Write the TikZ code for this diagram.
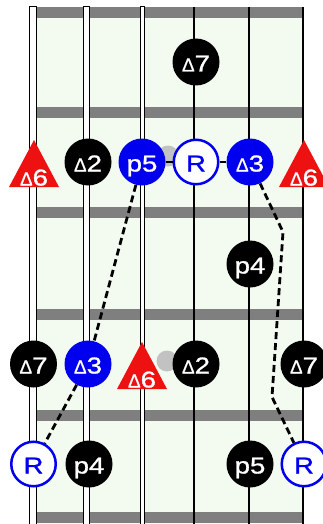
\documentclass[tikz,border=0pt]{standalone}
\usepackage{fontspec}
\setmainfont{Liberation Sans}
\newfontfamily\nf[FakeStretch=1.2,FakeBold=1.2]{Liberation Sans}
\newfontfamily\df[FakeBold=0.8]{Liberation Sans}
\definecolor{board}{HTML}{F3FAF0}
\definecolor{fretgray}{HTML}{7F7F7F}
\definecolor{nblue}{HTML}{0000EE}
\definecolor{nred}{HTML}{EE1111}
\definecolor{dotgray}{HTML}{C2C2C2}
\newcommand{\dd}[1]{{\df\fontsize{19}{19}\selectfont Δ}#1}
\begin{document}
\begin{tikzpicture}[x=1pt,y=-1pt,
  note/.style={circle, minimum size=47pt, inner sep=0pt, text height=19pt, text depth=0pt,
               font=\nf\fontsize{23}{23}\selectfont},
  blk/.style={note, fill=black, text=white},
  blu/.style={note, fill=nblue, text=white},
  root/.style={note, fill=white, draw=nblue, line width=2.5pt, text=nblue, minimum size=44.5pt},
  gdot/.style={circle, fill=dotgray, minimum size=21pt, inner sep=0pt},
  fret/.style={fill=fretgray},
  wound/.style={fill=white, draw=black, line width=1pt},
  plain/.style={draw=black, line width=1.2pt},
  link/.style={draw=black, line width=2.2pt},
  path/.style={draw=black, line width=2.8pt, dash pattern=on 7pt off 4pt},
  tlab/.style={anchor=base, text=white, inner sep=0pt, font=\nf\fontsize{23}{23}\selectfont},
  tri/.pic={\fill[nred] (0,-22) -- (-25,25) -- (25,25) -- cycle;
            \node[tlab] (-lab) at (0,23.5) {\dd6};}
]
\useasboundingbox (0,0) rectangle (323,524);
% board
\fill[board] (29,7) rectangle (303,524);
\foreach \y in {7,107,207,309,410,512}
  \fill[fret] (30,\y) rectangle (303,\y+11);
% strings
\draw[wound] (29.5,7) rectangle (36.5,524);
\draw[wound] (83.5,7) rectangle (89.5,524);
\draw[wound] (140,7) rectangle (144,524);
\draw[plain] (194,7) -- (194,524);
\draw[plain] (249,7) -- (249,524);
\draw[plain] (303,7) -- (303,524);
% grey dots
\node[gdot] (g1) at (168,156) {};
\node[gdot] (g2) at (167,361) {};
% row 1
\node[blk] (n17) at (196,62) {\dd7};
% row 2
\pic (t1) at (34,162) {tri};
\node[blk] (n22) at (88,162) {\dd2};
\node[blu] (n25) at (142,162) {p5};
\node[root] (n2r) at (196,162) {R};
\node[blu] (n23) at (250,162) {\dd3};
\pic (t2) at (304,162) {tri};
% row 3
\node[blk] (n34) at (250,264) {p4};
% row 4
\node[blk] (n47a) at (33.5,364) {\dd7};
\node[blu] (n43) at (88,364) {\dd3};
\pic (t3) at (142,364) {tri};
\node[blk] (n42) at (196,364) {\dd2};
\node[blk] (n47b) at (304,364) {\dd7};
% row 5
\node[root] (n5ra) at (33.5,464) {R};
\node[blk] (n54) at (89,464) {p4};
\node[blk] (n55) at (250,464) {p5};
\node[root] (n5rb) at (304,464) {R};
% connectors
\coordinate (c1) at (283,232);
\coordinate (c2) at (272,397);
\draw[link] (n25) -- (n2r) -- (n23);
\draw[path] (n25) -- (n43);
\draw[path] (n43) -- (n5ra);
\draw[path] (n23) -- (c1) -- (c2) -- (n5rb);
\end{tikzpicture}
\end{document}
